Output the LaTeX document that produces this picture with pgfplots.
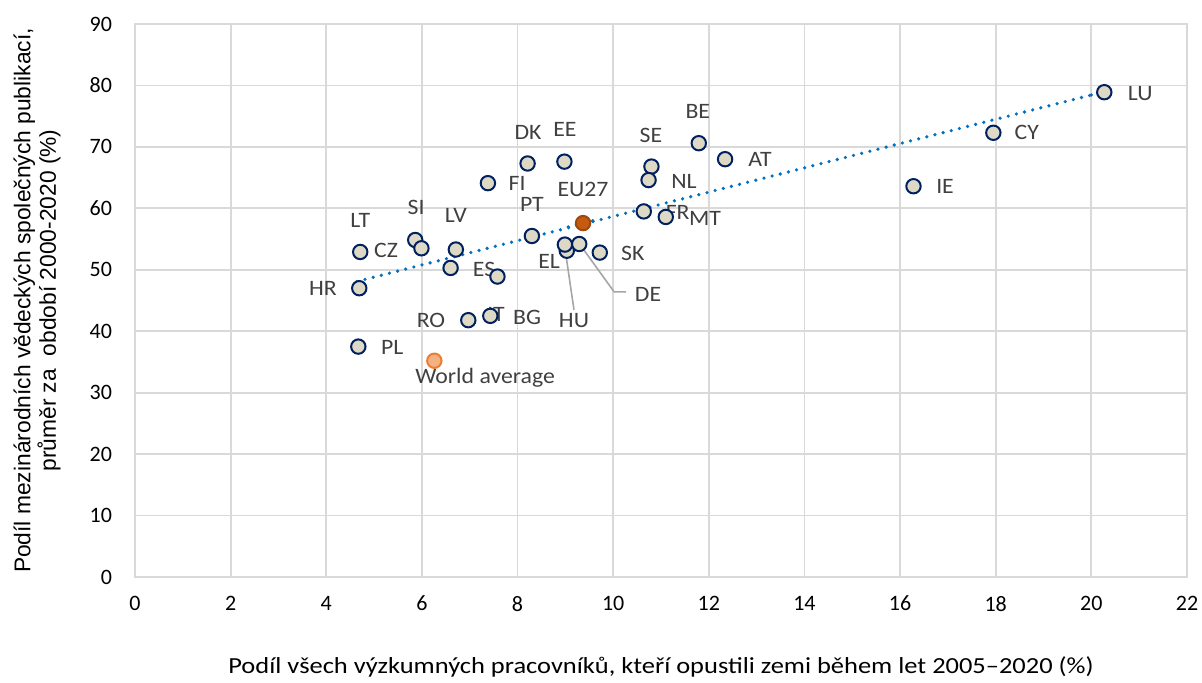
\documentclass[border=0pt]{standalone}
\usepackage{pgfplots}
\pgfplotsset{compat=1.18}
\usepackage{fontspec}
\setmainfont{Carlito}
\newfontfamily\arialf{Liberation Sans}
\newfontfamily\lblfont[FakeStretch=1.08]{Carlito}
\newfontfamily\xlabfont[FakeStretch=1.15]{Carlito}
\definecolor{gridc}{HTML}{D9D9D9}
\definecolor{navy}{HTML}{002060}
\definecolor{beige}{HTML}{DDD9C4}
\definecolor{trend}{HTML}{0070C0}
\definecolor{eu}{HTML}{C55A11}
\definecolor{worldf}{HTML}{F4B183}
\definecolor{worlde}{HTML}{ED7D31}
\definecolor{lbl}{HTML}{404040}
\begin{document}
\begin{tikzpicture}
\useasboundingbox (-67.5pt,-52.5pt) rectangle (533.5pt,288.5pt);
\begin{axis}[
  at={(0,0)}, anchor=south west,
  scale only axis,
  width=526pt, height=276.5pt,
  xmin=0, xmax=22, ymin=0, ymax=90,
  xtick distance=2, ytick distance=10,
  grid=major,
  grid style={gridc, line width=0.9pt},
  axis line style={gridc, line width=0.9pt},
  tick style={draw=none},
  /pgf/number format/assume math mode=true,
  tick label style={font=\fontsize{11}{13}\selectfont, text=black},
  xticklabel style={yshift=-6pt},
  yticklabel style={xshift=-8pt},
  xlabel={Podíl všech výzkumných pracovníků, kteří opustili zemi během let 2005–2020 (\%)},
  xlabel style={at={(axis description cs:0.5,0)}, anchor=center, yshift=-45pt, font=\xlabfont\fontsize{11.5}{13}\selectfont},
  ylabel={Podíl mezinárodních vědeckých společných publikací,\\ průměr za\ \ období 2000-2020 (\%)},
  ylabel style={at={(axis description cs:-0.093,0.5)}, anchor=center, rotate=0, align=center, font=\arialf\fontsize{11.4}{12.8}\selectfont},
  clip=false,
]
% trend line
\addplot[trend, line width=1.8pt, line cap=round, dash pattern=on 0pt off 4.2pt] coordinates {(4.64,48.1) (20.28,79.0)};
% countries
\addplot[only marks, mark=*, mark size=3.6pt, mark options={fill=beige, draw=navy, line width=1pt}] coordinates {
 (20.27,78.9) (17.95,72.3) (16.28,63.6) (11.79,70.6) (12.34,68.0)
 (10.80,66.8) (10.74,64.6) (10.64,59.5) (11.10,58.6) (8.21,67.3)
 (8.98,67.6) (7.38,64.1) (8.30,55.5) (9.03,53.1) (8.99,54.1)
 (9.29,54.2) (9.72,52.8) (5.86,54.85) (5.99,53.5) (4.71,52.9)
 (6.71,53.3) (6.60,50.3) (7.58,48.9) (4.69,47.0) (6.97,41.8)
 (7.43,42.5) (4.67,37.5)
};
% EU27
\addplot[only marks, mark=*, mark size=3.6pt, mark options={fill=eu, draw=eu!80!black, line width=1pt}] coordinates {(9.37,57.6)};
% world average
\addplot[only marks, mark=*, mark size=3.6pt, mark options={fill=worldf, draw=worlde, line width=1pt}] coordinates {(6.26,35.2)};
% trend dots drawn over the EU point and the LU point as in the reference
\addplot[trend, line width=1.8pt, line cap=round, dash pattern=on 0pt off 4.2pt] coordinates {(9.06,56.98) (9.70,58.25)};
\addplot[trend, line width=1.8pt, line cap=round, dash pattern=on 0pt off 4.2pt] coordinates {(20.0,78.45) (20.28,79.0)};
% leader lines
\draw[gray!70, line width=0.8pt] (axis cs:9.01,52.5) -- (axis cs:9.18,43.5);
\draw[gray!70, line width=0.8pt] (axis cs:9.39,53.2) -- (axis cs:10.02,46.4) -- (axis cs:10.27,46.4);
% labels
\begin{scope}[every node/.style={text=lbl, font=\lblfont\fontsize{11}{13}\selectfont, inner sep=0pt}]
\node at (axis cs:21.02,78.7) {LU};
\node at (axis cs:18.65,72.3) {CY};
\node at (axis cs:16.94,63.5) {IE};
\node at (axis cs:11.77,75.7) {BE};
\node at (axis cs:13.07,68.0) {AT};
\node at (axis cs:10.79,71.9) {SE};
\node at (axis cs:11.48,64.4) {NL};
\node at (axis cs:11.35,59.4) {FR};
\node at (axis cs:11.92,58.4) {MT};
\node at (axis cs:9.37,63.0) {EU27};
\node at (axis cs:8.22,72.4) {DK};
\node at (axis cs:8.99,72.9) {EE};
\node at (axis cs:7.99,64.0) {FI};
\node at (axis cs:8.30,60.7) {PT};
\node at (axis cs:8.66,51.3) {EL};
\node at (axis cs:9.18,41.8) {HU};
\node at (axis cs:10.73,46.0) {DE};
\node at (axis cs:10.41,52.6) {SK};
\node at (axis cs:5.88,60.1) {SI};
\node at (axis cs:6.71,58.8) {LV};
\node at (axis cs:4.71,58.1) {LT};
\node at (axis cs:5.25,53.2) {CZ};
\node at (axis cs:7.30,50.0) {ES};
\node at (axis cs:3.93,46.9) {HR};
\node at (axis cs:6.19,41.7) {RO};
\node at (axis cs:7.55,42.8) {IT};
\node at (axis cs:8.20,42.2) {BG};
\node at (axis cs:5.38,37.3) {PL};
\node at (axis cs:7.32,32.4) {World average};
\end{scope}
\end{axis}
\end{tikzpicture}
\end{document}
